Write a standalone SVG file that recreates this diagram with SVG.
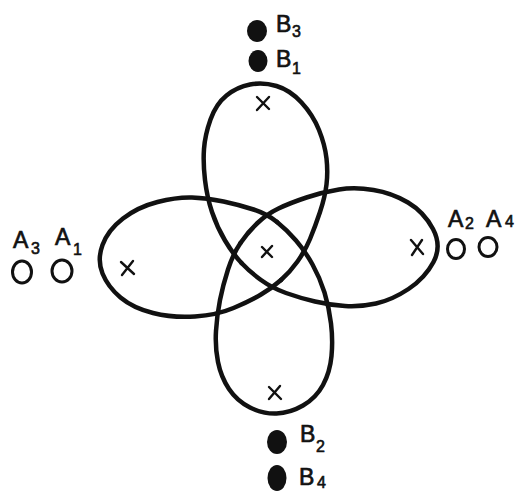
<svg xmlns="http://www.w3.org/2000/svg" width="519" height="493" viewBox="0 0 519 493">
<style>
.e{fill:none;stroke:#111;stroke-width:4.5;stroke-linecap:round;stroke-linejoin:round}
.x{fill:none;stroke:#111;stroke-width:2.4;stroke-linecap:round}
.f{fill:#111}
.o{fill:none;stroke:#111;stroke-width:3}
.t{font-family:"Liberation Sans",Arial,sans-serif;font-size:23px;fill:#111;stroke:#111;stroke-width:0.7}
.s{font-family:"Liberation Sans",Arial,sans-serif;font-size:16px;fill:#111;stroke:#111;stroke-width:0.6}
</style>
<rect width="519" height="493" fill="#fff"/>
<g id="connectors"></g>
<g id="petal-top"><path class="e" d="M241.5 263 Q233 254 225 240.5 Q217 227 212 212 Q207 197 205 180 Q203 163 204 149 Q205 135 210.5 119.5 Q216 104 226.5 95.5 Q237 87 250 84.5 Q263 82 276.5 86 Q290 90 301.5 102.5 Q313 115 319 130 Q325 145 326.5 158.5 Q328 172 326.5 184.5 Q325 197 320 212 Q315 227 310 239 Q305 251 297.5 261.5 Q290 272 281 280"/></g>
<g id="petal-left"><path class="e" d="M281 280 Q272 288 261 294.5 Q250 301 233.5 308 Q217 315 195 316.5 Q173 318 153 313 Q133 308 120.5 297.5 Q108 287 102.5 273.5 Q97 260 102.5 245 Q108 230 123 218.5 Q138 207 157.5 202 Q177 197 192 197.5 Q207 198 223.5 201.5 Q240 205 253.5 209.5 Q267 214 277 222"/></g>
<g id="petal-bottom"><path class="e" d="M277 222 Q287 230 296 240.5 Q305 251 312.5 264.5 Q320 278 324.5 292.5 Q329 307 331 323.5 Q333 340 331.5 356 Q330 372 323 385 Q316 398 303 405.5 Q290 413 276.5 413.5 Q263 414 250 407.5 Q237 401 229 389 Q221 377 218 362 Q215 347 216 331 Q217 315 220 300 Q223 285 228 269.5 Q233 254 240.5 243"/></g>
<g id="petal-right"><path class="e" d="M240.5 243 Q248 232 257.5 223 Q267 214 278.5 208.5 Q290 203 306.5 197.5 Q323 192 339 189.5 Q355 187 373.5 190 Q392 193 408 202.5 Q424 212 433 229 Q442 246 433.5 262 Q425 278 408.5 289 Q392 300 376 303.5 Q360 307 345 306 Q330 305 315 301.5 Q300 298 286 293 Q272 288 261 280 Q250 272 241.5 263"/></g>
<g id="marks">
<path class="x" d="M257 97 L269 109 M269 97 L257 110"/>
<path class="x" d="M262 247 L272 257 M272 246 L262 257"/>
<path class="x" d="M411 240 L423 254 M422 240 L412 255"/>
<path class="x" d="M121 262 L134 274 M133 261 L122 275"/>
<path class="x" d="M269 387 L281 399 M280 386 L269 399"/>
</g>
<g id="B3"><ellipse class="f" cx="257" cy="31" rx="10" ry="11"/><text class="t" x="276" y="32">B</text><text class="s" x="292" y="37">3</text></g>
<g id="B1"><ellipse class="f" cx="258" cy="61" rx="9.5" ry="11"/><text class="t" x="276" y="67">B</text><text class="s" x="292" y="74">1</text></g>
<g id="B2"><ellipse class="f" cx="277" cy="442" rx="10" ry="12"/><text class="t" x="300" y="442">B</text><text class="s" x="316" y="452">2</text></g>
<g id="B4"><ellipse class="f" cx="277" cy="478" rx="9.5" ry="13"/><text class="t" x="299" y="485">B</text><text class="s" x="317" y="488">4</text></g>
<g id="A3"><ellipse class="o" cx="22" cy="272" rx="9.5" ry="11"/><text class="t" x="13" y="248">A</text><text class="s" x="31" y="254">3</text></g>
<g id="A1"><ellipse class="o" cx="62" cy="271" rx="10" ry="11"/><text class="t" x="55" y="245">A</text><text class="s" x="73" y="255">1</text></g>
<g id="A2"><ellipse class="o" cx="456" cy="249" rx="8.5" ry="9.5"/><text class="t" x="448" y="227">A</text><text class="s" x="465" y="229">2</text></g>
<g id="A4"><ellipse class="o" cx="488" cy="247" rx="9" ry="9.5"/><text class="t" x="486" y="227">A</text><text class="s" x="505" y="227">4</text></g>
</svg>
